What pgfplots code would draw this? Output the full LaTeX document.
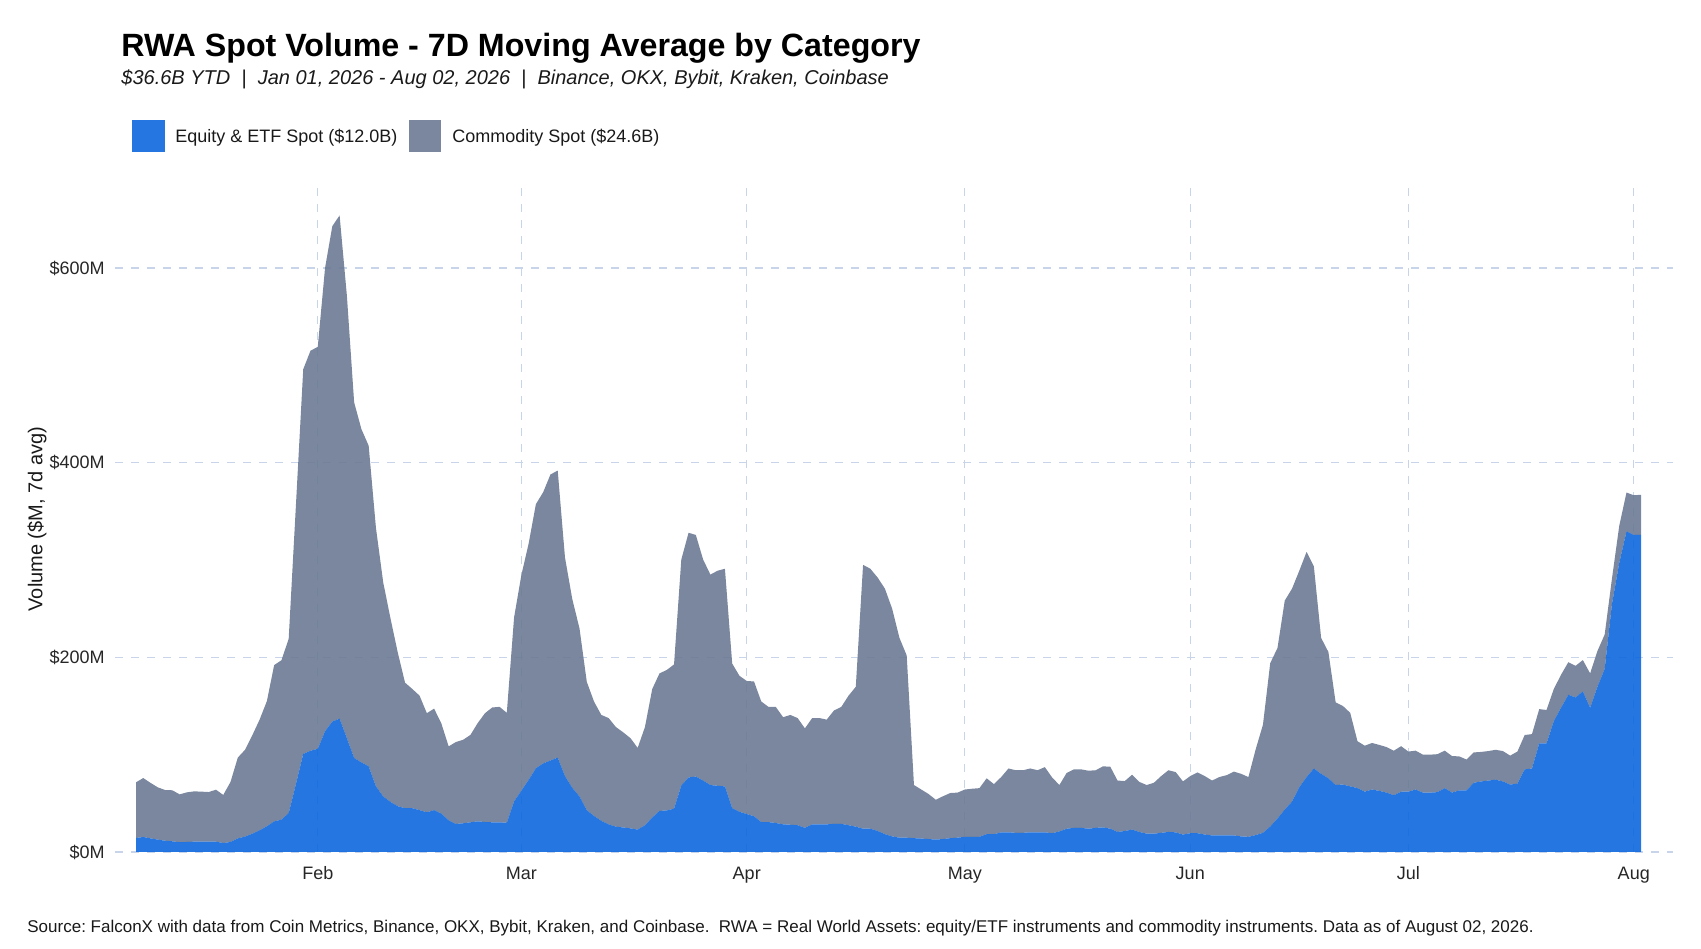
\documentclass[border=0pt]{standalone}
\usepackage{fontspec}
\setmainfont{Liberation Sans}
\usepackage{pgfplots}
\pgfplotsset{compat=1.18}
\usepackage{pgfplotstable}
\definecolor{eqblue}{RGB}{13,103,222}
\definecolor{comgray}{RGB}{107,122,147}
\definecolor{eqkey}{RGB}{37,118,225}
\definecolor{comkey}{RGB}{122,135,158}
\definecolor{gridc}{RGB}{200,212,234}
\frenchspacing

\pgfplotstableread{
d eq com
6 14.4 57.2
7 15.4 60.6
8 14.0 57.0
9 12.7 53.7
10 11.6 52.1
11 11.0 52.4
12 10.0 49.2
13 10.3 51.0
14 10.6 51.7
15 10.6 51.4
16 10.6 51.0
17 10.6 53.4
18 9.2 49.4
19 10.3 61.7
20 14.0 83.0
21 15.8 89.2
22 18.8 101.2
23 22.3 113.7
24 26.4 128.6
25 31.5 160.5
26 33.2 163.8
27 40.0 179.0
28 70.0 287.0
29 100.7 395.3
30 104.0 411.0
31 106.0 413.0
32 124.0 476.0
33 134.0 509.0
34 137.0 517.0
35 117.0 455.0
36 96.6 365.4
37 92.0 342.5
38 88.0 329.4
39 67.5 265.5
40 57.0 220.0
41 51.4 188.6
42 47.0 158.0
43 45.0 129.0
44 45.0 122.5
45 43.0 117.6
46 40.8 101.8
47 43.0 104.3
48 39.4 92.6
49 32.5 76.0
50 28.8 84.2
51 29.5 85.8
52 30.5 89.8
53 31.5 101.0
54 30.8 111.8
55 30.5 118.0
56 30.5 118.6
57 30.0 113.0
58 52.0 189.0
59 63.0 221.4
60 74.0 242.8
61 86.0 271.4
62 91.0 278.6
63 94.0 293.8
64 97.0 294.9
65 78.0 224.6
66 66.0 194.0
67 57.0 172.6
68 43.0 131.8
69 37.0 117.5
70 32.0 108.8
71 28.4 109.2
72 26.0 102.4
73 25.2 97.8
74 24.3 92.7
75 23.0 84.0
76 27.5 100.9
77 35.3 132.1
78 42.2 141.3
79 42.7 144.3
80 44.5 148.2
81 68.3 232.2
82 76.6 251.4
83 77.5 248.2
84 73.4 227.1
85 68.8 216.2
86 68.0 221.0
87 67.4 223.6
88 45.0 148.6
89 41.3 139.7
90 39.0 136.7
91 36.7 138.5
92 30.7 123.9
93 30.7 118.3
94 29.8 119.2
95 28.4 110.1
96 28.0 112.8
97 27.5 110.1
98 24.8 102.2
99 28.4 109.2
100 28.4 109.2
101 28.4 107.6
102 28.9 116.5
103 28.9 120.1
104 27.5 133.1
105 26.0 143.7
106 23.9 271.1
107 23.9 267.1
108 21.6 260.4
109 18.3 252.3
110 16.0 234.0
111 14.7 205.3
112 14.7 187.3
113 14.2 54.6
114 13.8 50.4
115 13.3 46.3
116 12.8 40.9
117 13.3 44.0
118 14.2 46.4
119 14.7 46.3
120 15.6 48.6
121 15.6 49.4
122 15.6 50.0
123 18.3 57.4
124 18.3 51.4
125 20.2 56.8
126 20.2 65.6
127 19.7 64.3
128 19.7 64.3
129 20.2 65.6
130 20.2 63.8
131 20.2 67.0
132 19.3 57.3
133 21.1 47.7
134 23.9 57.3
135 24.8 60.1
136 24.8 60.1
137 23.9 59.6
138 24.8 59.2
139 25.2 62.8
140 24.0 63.6
141 20.6 52.8
142 21.6 51.3
143 23.0 56.4
144 20.6 51.4
145 18.8 50.0
146 18.8 52.3
147 19.7 58.3
148 20.6 63.4
149 20.2 61.9
150 17.9 54.6
151 19.3 58.7
152 19.3 62.4
153 17.9 60.1
154 17.0 56.4
155 17.0 60.0
156 17.0 61.9
157 17.0 65.6
158 16.0 64.3
159 15.6 61.4
160 17.4 88.1
161 19.7 111.0
162 26.1 167.9
163 34.4 175.2
164 43.6 214.7
165 51.8 218.8
166 66.5 222.5
167 77.0 231.3
168 85.8 207.8
169 80.3 139.7
170 75.7 129.8
171 68.8 84.9
172 69.3 80.7
173 67.4 75.6
174 65.6 48.2
175 62.0 47.2
176 64.2 47.8
177 62.8 47.2
178 61.0 46.8
179 58.3 45.8
180 61.9 46.8
181 61.9 41.3
182 64.2 39.9
183 61.0 39.0
184 61.0 39.0
185 61.5 39.0
186 65.6 38.5
187 61.0 37.6
188 63.3 34.9
189 63.3 31.7
190 71.1 31.2
191 72.5 30.3
192 73.4 30.3
193 74.3 30.7
194 72.5 31.2
195 69.3 29.7
196 70.2 33.0
197 84.9 35.3
198 85.8 35.3
199 111.5 35.3
200 111.5 34.4
201 134.4 33.0
202 148.2 33.9
203 161.5 33.5
204 158.7 32.6
205 165.1 32.1
206 148.2 35.3
207 169.7 36.7
208 188.1 35.3
209 254.6 26.1
210 296.8 38.1
211 329.4 39.9
212 325.7 40.8
213 325.7 41.3
}\rwadata

\begin{document}
\begin{tikzpicture}
\path[use as bounding box] (0,0) rectangle (850.5bp,474.5bp);
\begin{axis}[
  at={(57.5bp,48.5bp)}, anchor=south west,
  width=779bp, height=334bp, scale only axis,
  xmin=3.11, xmax=217.4, ymin=0, ymax=686.3,
  stack plots=y,
  axis line style={draw=none},
  tick style={draw=none},
  xtick={31,59,90,120,151,181,212},
  xticklabels={Feb,Mar,Apr,May,Jun,Jul,Aug},
  ytick={0,200,400,600},
  yticklabels={\$0M,\$200M,\$400M,\$600M},
  grid=major,
  major grid style={draw=gridc, line width=0.55bp, dash pattern=on 4bp off 4bp},
  tick label style={font=\fontsize{9bp}{11bp}\selectfont, text=black!85},
  yticklabel style={anchor=east, inner sep=0pt, xshift=-5bp},
  xticklabel style={anchor=base, inner sep=0pt, yshift=-14bp},
]
\addplot[draw=none, fill=eqblue, fill opacity=0.9] table[x=d,y=eq]{\rwadata} \closedcycle;
\addplot[draw=none, fill=comgray, fill opacity=0.9] table[x=d,y=com]{\rwadata} \closedcycle;
\end{axis}
\node[anchor=base west, inner sep=0pt, font=\fontsize{16.1bp}{19bp}\selectfont\bfseries] at (60.5bp,446bp) {RWA Spot Volume - 7D Moving Average by Category};
\node[anchor=base west, inner sep=0pt, font=\fontsize{10bp}{12bp}\selectfont\itshape, text=black!90] at (60.5bp,432bp) {\$36.6B YTD\ \ |\ \ Jan 01, 2026 - Aug 02, 2026\ \ |\ \ Binance, OKX, Bybit, Kraken, Coinbase};
\fill[eqkey] (66bp,398.5bp) rectangle (82.5bp,414.5bp);
\node[anchor=base west, inner sep=0pt, font=\fontsize{9bp}{11bp}\selectfont, text=black!90] at (87.5bp,403bp) {Equity \& ETF Spot (\$12.0B)};
\fill[comkey] (204.5bp,398.5bp) rectangle (220.5bp,414.5bp);
\node[anchor=base west, inner sep=0pt, font=\fontsize{9bp}{11bp}\selectfont, text=black!90] at (226bp,403bp) {Commodity Spot (\$24.6B)};
\node[rotate=90, inner sep=0pt, font=\fontsize{10bp}{12bp}\selectfont, text=black!90] at (18.5bp,215bp) {Volume (\$M, 7d avg)};
\node[anchor=base west, inner sep=0pt, font=\fontsize{8.5bp}{10bp}\selectfont, text=black!90] at (13.5bp,8.5bp) {Source: FalconX with data from Coin Metrics, Binance, OKX, Bybit, Kraken, and Coinbase.\ \ RWA = Real World Assets: equity/ETF instruments and commodity instruments. Data as of August 02, 2026.};
\end{tikzpicture}
\end{document}
